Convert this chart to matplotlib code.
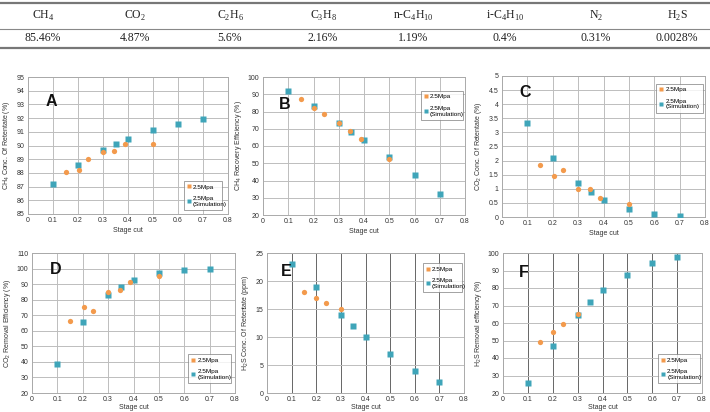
import matplotlib
matplotlib.use("Agg")
import matplotlib.pyplot as plt
from matplotlib.lines import Line2D
import numpy as np

plt.rcParams['mathtext.fontset'] = 'custom'
plt.rcParams['mathtext.rm'] = 'Liberation Serif'
plt.rcParams['mathtext.sf'] = 'Liberation Sans'
plt.rcParams['font.family'] = ['Liberation Sans', 'DejaVu Sans']

# ---- table data ----
components = ['CH$_4$', 'CO$_2$', 'C$_2$H$_6$', 'C$_3$H$_8$', 'n-C$_4$H$_{10}$',
              'i-C$_4$H$_{10}$', 'N$_2$', 'H$_2$S']
fractions = ['85.46%', '4.87%', '5.6%', '2.16%', '1.19%', '0.4%', '0.31%', '0.0028%']

# ---- chart data ----
sim_x = [0.1, 0.2, 0.3, 0.35, 0.4, 0.5, 0.6, 0.7]
exp_x = [0.15, 0.203, 0.24, 0.30, 0.345, 0.387, 0.50]
exp_x_h2s = [0.15, 0.20, 0.24, 0.30]

ch4_conc_exp = [88.07, 88.2, 89.02, 89.54, 89.63, 90.1, 90.1]
ch4_conc_sim = [87.2, 88.56, 89.66, 90.1, 90.49, 91.1, 91.56, 91.95]
ch4_rec_exp = [87.2, 81.9, 78.8, 73.2, 68.5, 64.3, 52.4]
ch4_rec_sim = [91.7, 82.9, 73.4, 68.3, 63.5, 53.4, 42.9, 32.2]
co2_conc_exp = [1.83, 1.45, 1.67, 0.98, 0.98, 0.68, 0.47]
co2_conc_sim = [3.32, 2.1, 1.21, 0.89, 0.62, 0.28, 0.11, 0.02]
co2_rem_exp = [66.1, 75.1, 72.5, 85.1, 86.2, 91.4, 95.2]
co2_rem_sim = [38.9, 65.6, 82.8, 88.4, 92.4, 97.4, 99.3, 100.0]
h2s_conc_exp = [18.0, 17.0, 16.0, 15.0]
h2s_conc_sim = [23.0, 19.0, 14.0, 12.0, 10.0, 7.0, 4.0, 2.0]
h2s_rem_exp = [49.3, 55.0, 59.4, 65.0]
h2s_rem_sim = [25.5, 46.6, 64.8, 72.1, 78.6, 87.6, 94.4, 97.9]

exp_label = '2.5Mpa'
sim_label = '2.5Mpa\n(Simulation)'
xlabel = 'Stage cut'
xticks = [0, 0.1, 0.2, 0.3, 0.4, 0.5, 0.6, 0.7, 0.8]

ORANGE = '#f39a4c'
BLUE = '#3fa5b9'

W, H = 710, 412
fig = plt.figure(figsize=(W / 100, H / 100), dpi=100)

# ---- table ----
col_x = [43, 135, 230, 323, 413, 505, 596, 677]
tax = fig.add_axes([0, 0, 1, 1], zorder=-1)
tax.set_xlim(0, W)
tax.set_ylim(H, 0)
tax.axis('off')
tax.plot([0, W], [3, 3], color='#777777', lw=1.6)
tax.plot([0, W], [29, 29], color='#888888', lw=0.8)
tax.plot([0, W], [47.5, 47.5], color='#777777', lw=1.6)
for cx, comp, fr in zip(col_x, components, fractions):
    tax.text(cx, 15.5, comp, ha='center', va='center', fontsize=8.5,
             family='Liberation Serif', color='#222222')
    tax.text(cx, 38, fr, ha='center', va='center', fontsize=8.5,
             family='Liberation Serif', color='#222222')

# ---- panels ----
def px_axes(l, r, t, b):
    return [l / W, (H - b) / H, (r - l) / W, (b - t) / H]

panels = [
    dict(rect=px_axes(28, 228, 77, 214), ylim=(85, 95), ystep=1,
         yl='CH$_\\mathsf{4}$ Conc. Of Retentate (%)', ex=exp_x, ey=ch4_conc_exp,
         sy=ch4_conc_sim, letter='A', lpos=(0.09, 0.82), leg=(0.78, 0.03, 0.19, 0.2), vdark=False),
    dict(rect=px_axes(263, 465, 77, 215), ylim=(20, 100), ystep=10,
         yl='CH$_\\mathsf{4}$ Recovery Efficiency (%)', ex=exp_x, ey=ch4_rec_exp,
         sy=ch4_rec_sim, letter='B', lpos=(0.08, 0.80), leg=(0.78, 0.69, 0.21, 0.23), vdark=False),
    dict(rect=px_axes(502, 705, 76, 217), ylim=(0, 5), ystep=0.5,
         yl='CO$_\\mathsf{2}$ Conc. Of Retentate (%)', ex=exp_x, ey=co2_conc_exp,
         sy=co2_conc_sim, letter='C', lpos=(0.085, 0.88), leg=(0.76, 0.74, 0.23, 0.23), vdark=False),
    dict(rect=px_axes(32, 235, 253, 393), ylim=(20, 110), ystep=10,
         yl='CO$_\\mathsf{2}$ Removal Efficiency (%)', ex=exp_x, ey=co2_rem_exp,
         sy=co2_rem_sim, letter='D', lpos=(0.09, 0.88), leg=(0.77, 0.07, 0.21, 0.22), vdark=False),
    dict(rect=px_axes(267, 464, 253, 393), ylim=(0, 25), ystep=5,
         yl='H$_\\mathsf{2}$S Conc. Of Retentate (ppm)', ex=exp_x_h2s, ey=h2s_conc_exp,
         sy=h2s_conc_sim, letter='E', lpos=(0.07, 0.865), leg=(0.79, 0.72, 0.20, 0.22), vdark=True),
    dict(rect=px_axes(503, 702, 253, 393), ylim=(20, 100), ystep=10,
         yl='H$_\\mathsf{2}$S Removal efficiency (%)', ex=exp_x_h2s, ey=h2s_rem_exp,
         sy=h2s_rem_sim, letter='F', lpos=(0.08, 0.86), leg=(0.78, 0.07, 0.21, 0.22), vdark=True),
]

for i, p in enumerate(panels):
    ax = fig.add_axes(p['rect'])
    ax.set_xlim(0, 0.8)
    ax.set_ylim(*p['ylim'])
    ax.set_xticks(xticks)
    ax.set_xticklabels([('%g' % v) for v in xticks])
    yt = np.arange(p['ylim'][0], p['ylim'][1] + p['ystep'] / 2, p['ystep'])
    ax.set_yticks(yt)
    ax.set_yticklabels([('%g' % v) for v in yt])
    ax.tick_params(labelsize=5, length=0, pad=2.5, colors='#333333')
    ax.tick_params(axis='x', pad=2)
    ax.yaxis.grid(True, color='#bdbdbd', lw=0.7)
    ax.xaxis.grid(True, color='#666666' if p['vdark'] else '#bdbdbd', lw=0.7)
    ax.set_axisbelow(True)
    for s in ax.spines.values():
        s.set_color('#aaaaaa')
        s.set_linewidth(0.7)
    ax.set_xlabel(xlabel, fontsize=5, labelpad=2 if i < 3 else 0.8, color='#333333')
    ax.set_ylabel(p['yl'], fontsize=5, labelpad=3, color='#333333')
    ax.plot(sim_x, p['sy'], linestyle='none', marker='s', ms=4.2,
            color=BLUE, mec='none', zorder=3)
    ax.plot(p['ex'], p['ey'], linestyle='none', marker='o', ms=3.8,
            color=ORANGE, mec='none', zorder=4)
    ax.text(p['lpos'][0], p['lpos'][1], p['letter'], transform=ax.transAxes,
            fontsize=11.5, fontweight='bold', ha='left', va='center', color='#111111')
    handles = [Line2D([], [], ls='none', marker='s', ms=2.2, color=ORANGE, mec='none'),
               Line2D([], [], ls='none', marker='s', ms=2.2, color=BLUE, mec='none')]
    leg = ax.legend(handles, [exp_label, sim_label], loc='lower left',
                    bbox_to_anchor=p['leg'], mode='expand', fontsize=4.6,
                    frameon=True, fancybox=False, borderpad=0.5, handlelength=0.6,
                    handletextpad=0.3, labelspacing=1.0, borderaxespad=0)
    leg.get_frame().set_edgecolor('#777777')
    leg.get_frame().set_linewidth(0.6)

fig.savefig('out.png', dpi=100)
